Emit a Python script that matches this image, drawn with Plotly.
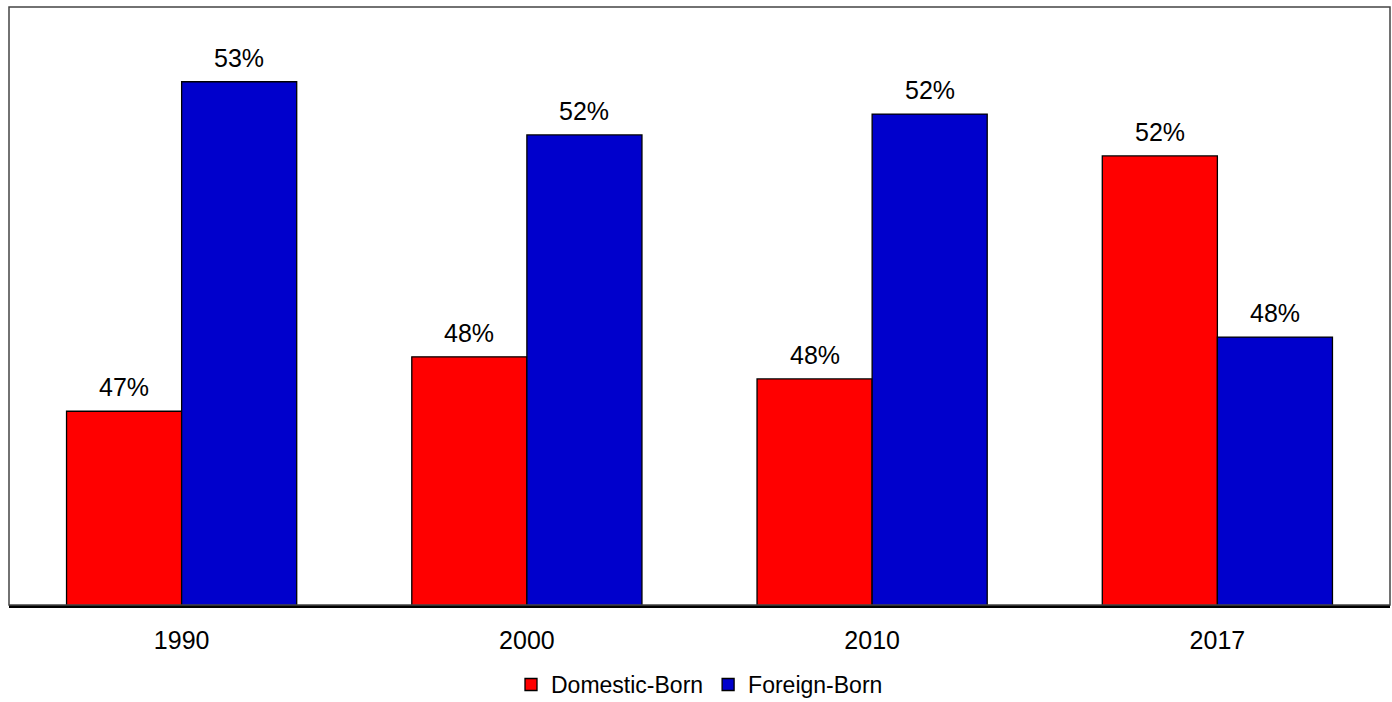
import plotly.graph_objects as go

years = ["1990", "2000", "2010", "2017"]
domestic_born = [47.24, 48.15, 47.78, 51.51]
foreign_born = [52.75, 51.86, 52.21, 48.48]

series = [
    ("Domestic-Born", domestic_born, "#FF0000"),
    ("Foreign-Born", foreign_born, "#0000CC"),
]

FONT = "Liberation Sans, Arial, sans-serif"

fig = go.Figure()
for name, vals, color in series:
    fig.add_trace(go.Bar(
        name=name, x=years, y=vals,
        marker=dict(color=color, line=dict(color="#000000", width=1.3)),
        offsetgroup=name,
        cliponaxis=False,
    ))

# value labels above each bar
annotations = []
n = len(series)
for i, (name, vals, color) in enumerate(series):
    for j, v in enumerate(vals):
        annotations.append(dict(
            x=j + (i - (n - 1) / 2) * (2 / 3) / n, y=v, xref="x", yref="y",
            text=f"{round(v):.0f}%", showarrow=False,
            yanchor="bottom", yshift=8,
            font=dict(size=25, color="#000000", family=FONT),
        ))

fig.update_layout(
    width=1392, height=702,
    margin=dict(l=9, r=2, t=7, b=97, autoexpand=False),
    plot_bgcolor="#FFFFFF", paper_bgcolor="#FFFFFF",
    barmode="group", bargap=1 / 3, bargroupgap=0,
    font=dict(family=FONT, size=25, color="#000000"),
    showlegend=True,
    legend=dict(
        orientation="h", x=0.5, xanchor="center",
        y=-0.133, yanchor="middle",
        font=dict(size=23, family=FONT), itemwidth=30, tracegroupgap=0,
        bgcolor="rgba(0,0,0,0)",
    ),
    annotations=annotations,
    shapes=[dict(
        type="rect", xref="paper", yref="paper", x0=0, x1=1, y0=0, y1=1,
        line=dict(color="#444444", width=1.5), fillcolor="rgba(0,0,0,0)",
        layer="above",
    )],
)
fig.update_xaxes(
    type="category", showgrid=False, zeroline=False,
    showline=True, linecolor="#000000", linewidth=2.5,
    ticks="", ticklabelstandoff=11,
    tickfont=dict(size=25, family=FONT),
)
fig.update_yaxes(
    range=[44, 54], showgrid=False, zeroline=False,
    showticklabels=False, ticks="", showline=False,
)

fig.write_html("out.html")
